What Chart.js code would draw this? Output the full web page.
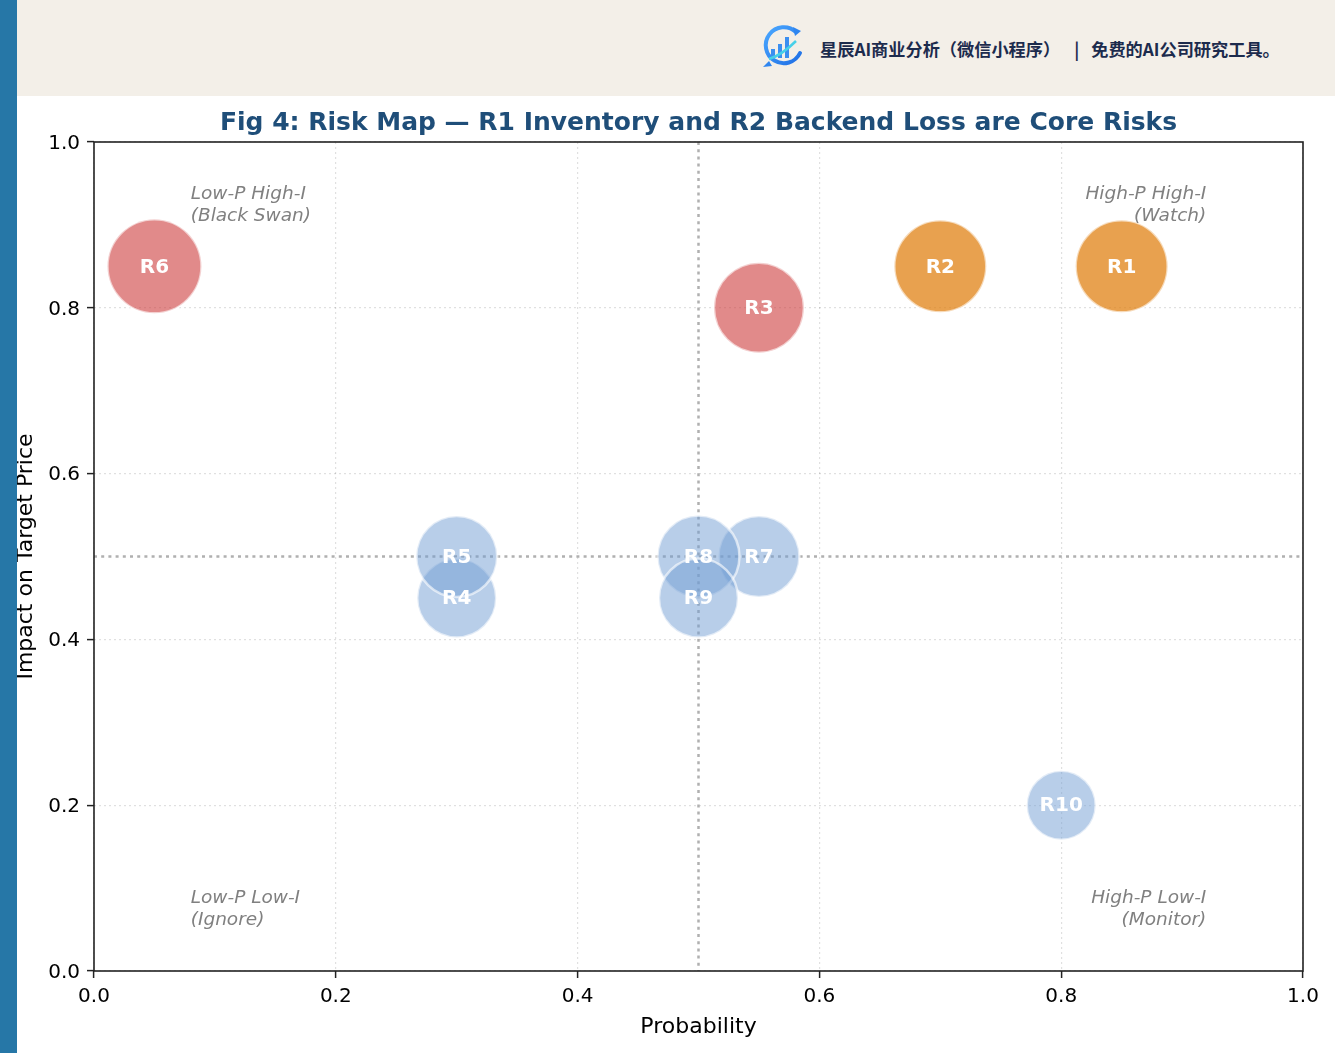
<!DOCTYPE html>
<html>
<head>
<meta charset="utf-8">
<script src="https://cdn.jsdelivr.net/npm/chart.js@4.4.1/dist/chart.umd.min.js"></script>
<style>
  html, body { margin:0; padding:0; background:#fff; }
  body { width:1335px; height:1053px; position:relative; overflow:hidden; }
  #wrap { position:absolute; left:0; top:0; width:1335px; height:1053px; }
  #header { position:absolute; left:17px; top:0; width:1318px; height:96px; background:#f3efe8; z-index:2; }
  #leftbar { position:absolute; left:0; top:0; width:17px; height:1053px; background:#2677a7; z-index:3; }
  #logo { position:absolute; top:23px; width:46px; height:48px; }
  #brand { position:absolute; top:37px; font-family:"Noto Sans CJK SC","Noto Sans",sans-serif; font-weight:700; font-size:17.2px; color:#1c2b4d; white-space:nowrap; line-height:24px; }
  #brand .sep { margin:0 12px 0 14px; }
</style>
</head>
<body>
<div id="wrap"><canvas id="c" width="1335" height="1053"></canvas></div>
<div id="header">
  <svg id="logo" viewBox="0 0 46 48" style="left:743px;">
    <defs>
      <linearGradient id="g1" x1="0" y1="0" x2="1" y2="1">
        <stop offset="0" stop-color="#4aa8ff"/>
        <stop offset="1" stop-color="#1f6fe5"/>
      </linearGradient>
    </defs>
    <path d="M36 9 A18 18 0 1 0 40 30" fill="none" stroke="url(#g1)" stroke-width="4" stroke-linecap="round"/>
    <path d="M33 4 L41 8 L35 13 Z" fill="#2f86f0"/>
    <path d="M9 38 L3 44 L12 43 Z" fill="#2f86f0"/>
    <rect x="11" y="26" width="4" height="9" fill="#3b8ff0"/>
    <rect x="18" y="21" width="4" height="14" fill="#3b8ff0"/>
    <rect x="25" y="14" width="4" height="21" fill="#3b8ff0"/>
    <path d="M9 36 Q22 32 36 18" fill="none" stroke="#47d0e8" stroke-width="2.5"/>
  </svg>
  <div id="brand" style="left:803px;">星辰AI商业分析（微信小程序）<span class="sep">|</span>免费的AI公司研究工具。</div>
</div>
<div id="leftbar"></div>
<script>
// ---- data ----
const riskIds     = ['R1','R2','R3','R4','R5','R6','R7','R8','R9','R10'];
const probability = [0.85, 0.70, 0.55, 0.30, 0.30, 0.05, 0.55, 0.50, 0.50, 0.80];
const impact      = [0.85, 0.85, 0.80, 0.45, 0.50, 0.85, 0.50, 0.50, 0.45, 0.20];
const bubbleSize  = [46, 46, 45, 39.5, 40.5, 47, 40.5, 41, 39.5, 34.5];
const riskClass   = ['core','core','major','minor','minor','major','minor','minor','minor','minor'];
const axisTicks   = [0.0, 0.2, 0.4, 0.6, 0.8, 1.0];
const titleText   = 'Fig 4: Risk Map — R1 Inventory and R2 Backend Loss are Core Risks';
const quadrantLabels = [
  { x: 0.08, y: 0.95, align: 'left',  anchor: 'top',    lines: ['Low-P High-I', '(Black Swan)'] },
  { x: 0.92, y: 0.95, align: 'right', anchor: 'top',    lines: ['High-P High-I', '(Watch)'] },
  { x: 0.08, y: 0.05, align: 'left',  anchor: 'bottom', lines: ['Low-P Low-I', '(Ignore)'] },
  { x: 0.92, y: 0.05, align: 'right', anchor: 'bottom', lines: ['High-P Low-I', '(Monitor)'] }
];
const midX = 0.5, midY = 0.5;

const classColors = {
  core:  'rgba(224,130,20,0.75)',
  major: 'rgba(205,60,60,0.6)',
  minor: 'rgba(113,157,211,0.5)'
};

const FONT = '"DejaVu Sans", sans-serif';

const points = riskIds.map((id, i) => ({ x: probability[i], y: impact[i], r: bubbleSize[i], id }));

const decor = {
  id: 'decor',
  beforeDatasetsDraw(chart) {
    const { ctx, chartArea: a, scales: { x, y } } = chart;
    ctx.save();
    ctx.strokeStyle = '#b0b0b0';
    ctx.lineWidth = 2.5;
    ctx.setLineDash([3, 4.2]);
    const px = x.getPixelForValue(midX);
    const py = y.getPixelForValue(midY);
    ctx.beginPath(); ctx.moveTo(px, a.top); ctx.lineTo(px, a.bottom); ctx.stroke();
    ctx.beginPath(); ctx.moveTo(a.left, py); ctx.lineTo(a.right, py); ctx.stroke();
    ctx.restore();
  },
  afterDatasetsDraw(chart) {
    const { ctx, chartArea: a, scales: { x, y } } = chart;
    ctx.save();
    // bubble labels
    ctx.fillStyle = '#ffffff';
    ctx.font = 'bold 20px ' + FONT;
    ctx.textAlign = 'center';
    ctx.textBaseline = 'middle';
    points.forEach(p => {
      ctx.fillText(p.id, x.getPixelForValue(p.x), y.getPixelForValue(p.y) + 1);
    });
    // quadrant labels
    ctx.fillStyle = '#808080';
    ctx.font = 'italic 18.5px ' + FONT;
    quadrantLabels.forEach(q => {
      const qx = x.getPixelForValue(q.x);
      const qy = y.getPixelForValue(q.y);
      ctx.textAlign = q.align;
      q.lines.forEach((t, k) => {
        const ly = q.anchor === 'top' ? qy + 10.5 + 22 * k : qy - 31.5 + 22 * k;
        ctx.fillText(t, qx, ly);
      });
    });
    // frame
    ctx.strokeStyle = '#222';
    ctx.lineWidth = 1.6;
    ctx.setLineDash([]);
    ctx.strokeRect(a.left, a.top, a.right - a.left, a.bottom - a.top);
    // title
    ctx.fillStyle = '#1f4e79';
    ctx.font = 'bold 25px ' + FONT;
    ctx.textAlign = 'center';
    ctx.textBaseline = 'middle';
    ctx.fillText(titleText, (a.left + a.right) / 2, 123);
    ctx.restore();
  }
};

const whiteBg = {
  id: 'whiteBg',
  beforeDraw(chart) {
    const { ctx, width, height } = chart;
    ctx.save(); ctx.fillStyle = '#fff'; ctx.fillRect(0, 0, width, height); ctx.restore();
  }
};

const gridCommon = {
  color: 'rgba(0,0,0,0.12)',
  lineWidth: 1.2,
  drawTicks: true,
  tickLength: 7,
  tickColor: '#222',
  tickWidth: 1.5
};

new Chart(document.getElementById('c'), {
  type: 'bubble',
  data: {
    datasets: [{
      data: points,
      backgroundColor: riskIds.map((_, i) => classColors[riskClass[i]]),
      borderColor: 'rgba(255,255,255,0.6)',
      borderWidth: 2.5,
      hoverRadius: 0
    }]
  },
  options: {
    responsive: false,
    animation: false,
    events: [],
    layout: { autoPadding: false, padding: { top: 142, right: 32, left: 0, bottom: 0 } },
    plugins: { legend: { display: false }, tooltip: { enabled: false }, title: { display: false } },
    scales: {
      x: {
        type: 'linear', min: 0, max: 1,
        afterBuildTicks: s => { s.ticks = axisTicks.map(v => ({ value: v })); },
        afterFit: s => { s.height = 82; s.paddingLeft = 0; s.paddingRight = 0; },
        ticks: { callback: v => Number(v).toFixed(1), color: '#000', font: { family: FONT, size: 20 }, padding: 7, maxRotation: 0 },
        grid: gridCommon,
        border: { display: false, dash: [2, 3] },
        title: { display: true, text: 'Probability', color: '#000', font: { family: FONT, size: 22 }, padding: { top: 0, bottom: 12.5 } }
      },
      y: {
        type: 'linear', min: 0, max: 1,
        afterBuildTicks: s => { s.ticks = axisTicks.map(v => ({ value: v })); },
        afterFit: s => { s.width = 94; s.paddingTop = 0; s.paddingBottom = 0; },
        ticks: { callback: v => Number(v).toFixed(1), color: '#000', font: { family: FONT, size: 20 }, padding: 7, labelOffset: 1.5 },
        grid: gridCommon,
        border: { display: false, dash: [2, 3] },
        title: { display: true, text: 'Impact on Target Price', color: '#000', font: { family: FONT, size: 22 }, padding: { top: 13, bottom: 0 } }
      }
    }
  },
  plugins: [whiteBg, decor]
});
</script>
</body>
</html>
